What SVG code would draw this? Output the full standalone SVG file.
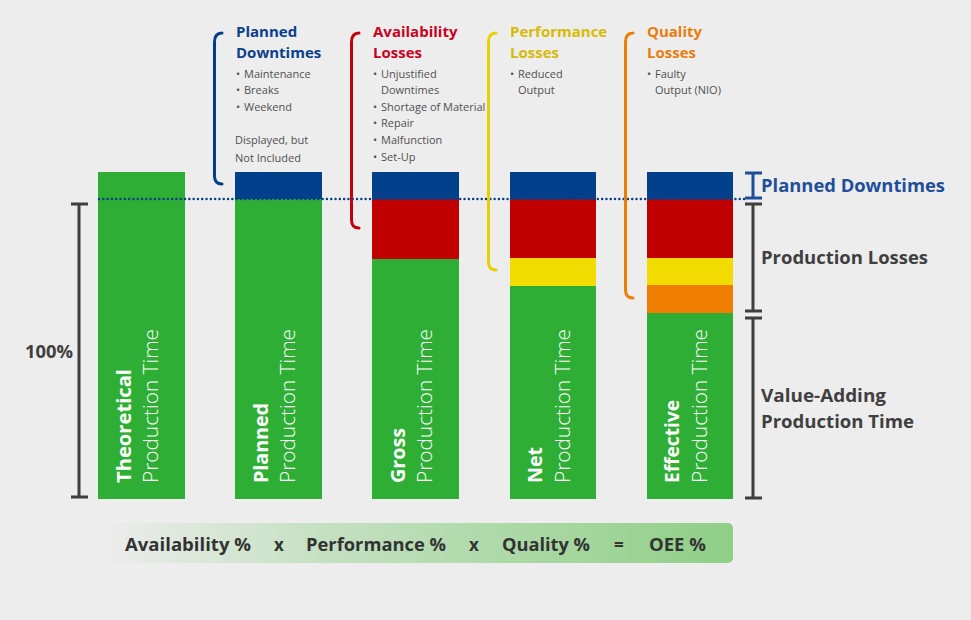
<svg xmlns="http://www.w3.org/2000/svg" width="971" height="620" viewBox="0 0 971 620">
<defs>
<linearGradient id="fgrad" x1="0" y1="0" x2="1" y2="0">
<stop offset="0" stop-color="#93d18b" stop-opacity="0"/>
<stop offset="0.35" stop-color="#93d18b" stop-opacity="0.45"/>
<stop offset="1" stop-color="#8fcf86" stop-opacity="1"/>
</linearGradient>
<style>
text{font-family:"Open Sans","Noto Sans","Liberation Sans",sans-serif;}
.g{fill:#2eae34}.b{fill:#003f8a}.r{fill:#c00000}.y{fill:#f2dc00}.o{fill:#ef7d00}
.vb{fill:#fff;font-weight:700;font-size:20px}
.vl{fill:#fff;font-weight:300;font-size:21px}
.h{font-weight:700;font-size:15px}
.t{fill:#505050;font-size:11px}
.scale{stroke:#3f3f3f;stroke-width:3;fill:none}
.lbl{font-weight:700;font-size:17.5px;fill:#3f3f3f}
.f{font-weight:700;font-size:17px;fill:#333}
.br{fill:none;stroke-width:3;stroke-linecap:round}
</style>
</defs>
<rect width="971" height="620" fill="#ededed"/>

<g id="bar-theoretical">
<rect class="g" x="98" y="172" width="87" height="327"/>
<text class="vb" transform="translate(131,483) rotate(-90)" textLength="114" lengthAdjust="spacingAndGlyphs">Theoretical</text>
<text class="vl" transform="translate(158,483) rotate(-90)" textLength="154" lengthAdjust="spacingAndGlyphs">Production Time</text>
</g>
<g id="bar-planned">
<rect class="b" x="235" y="172" width="87" height="27"/>
<rect class="g" x="235" y="199" width="87" height="300"/>
<text class="vb" transform="translate(268,483) rotate(-90)" textLength="80" lengthAdjust="spacingAndGlyphs">Planned</text>
<text class="vl" transform="translate(295,483) rotate(-90)" textLength="154" lengthAdjust="spacingAndGlyphs">Production Time</text>
</g>
<g id="bar-gross">
<rect class="b" x="372" y="172" width="87" height="27"/>
<rect class="r" x="372" y="199" width="87" height="60"/>
<rect class="g" x="372" y="259" width="87" height="240"/>
<text class="vb" transform="translate(405,483) rotate(-90)" textLength="55" lengthAdjust="spacingAndGlyphs">Gross</text>
<text class="vl" transform="translate(432,483) rotate(-90)" textLength="154" lengthAdjust="spacingAndGlyphs">Production Time</text>
</g>
<g id="bar-net">
<rect class="b" x="510" y="172" width="86" height="27"/>
<rect class="r" x="510" y="199" width="86" height="59"/>
<rect class="y" x="510" y="258" width="86" height="28"/>
<rect class="g" x="510" y="286" width="86" height="213"/>
<text class="vb" transform="translate(542,483) rotate(-90)" textLength="36" lengthAdjust="spacingAndGlyphs">Net</text>
<text class="vl" transform="translate(570,483) rotate(-90)" textLength="154" lengthAdjust="spacingAndGlyphs">Production Time</text>
</g>
<g id="bar-effective">
<rect class="b" x="647" y="172" width="86" height="27"/>
<rect class="r" x="647" y="199" width="86" height="59"/>
<rect class="y" x="647" y="258" width="86" height="27"/>
<rect class="o" x="647" y="285" width="86" height="28"/>
<rect class="g" x="647" y="313" width="86" height="186"/>
<text class="vb" transform="translate(679,483) rotate(-90)" textLength="83" lengthAdjust="spacingAndGlyphs">Effective</text>
<text class="vl" transform="translate(707,483) rotate(-90)" textLength="154" lengthAdjust="spacingAndGlyphs">Production Time</text>
</g>

<g id="connectors">
<line x1="99" y1="199" x2="745" y2="199" stroke="#003f8a" stroke-width="2.4" stroke-linecap="round" stroke-dasharray="0.1,4.2"/>
<path class="br" stroke="#003f8a" d="M222,33 Q214.5,33 214.5,42 L214.5,176 Q214.5,184 222,184"/>
<path class="br" stroke="#c00010" d="M359,33 Q351.5,33 351.5,42 L351.5,220 Q351.5,228 359,228"/>
<path class="br" stroke="#e8cf00" d="M496,33 Q488.5,33 488.5,42 L488.5,262 Q488.5,270 496,270"/>
<path class="br" stroke="#ef7d00" d="M633,33 Q625.5,33 625.5,42 L625.5,290 Q625.5,298 633,298"/>
</g>

<g id="heading-planned">
<text class="h" fill="#0a3f8c" x="236" y="37">Planned</text>
<text class="h" fill="#0a3f8c" x="236" y="58">Downtimes</text>
<text class="t" x="236" y="78">• <tspan x="244">Maintenance</tspan></text>
<text class="t" x="236" y="94">• <tspan x="244">Breaks</tspan></text>
<text class="t" x="236" y="111">• <tspan x="244">Weekend</tspan></text>
<text class="t" x="235" y="144">Displayed, but</text>
<text class="t" x="235" y="162">Not Included</text>
</g>
<g id="heading-availability">
<text class="h" fill="#c8001e" x="373" y="37">Availability</text>
<text class="h" fill="#c8001e" x="373" y="58">Losses</text>
<text class="t" x="373" y="78">• <tspan x="381">Unjustified</tspan></text>
<text class="t" x="381" y="94">Downtimes</text>
<text class="t" x="373" y="111">• <tspan x="381">Shortage of Material</tspan></text>
<text class="t" x="373" y="127">• <tspan x="381">Repair</tspan></text>
<text class="t" x="373" y="144">• <tspan x="381">Malfunction</tspan></text>
<text class="t" x="373" y="161">• <tspan x="381">Set-Up</tspan></text>
</g>
<g id="heading-performance">
<text class="h" fill="#d6bb00" x="510" y="37">Performance</text>
<text class="h" fill="#d6bb00" x="510" y="58">Losses</text>
<text class="t" x="510" y="78">• <tspan x="518">Reduced</tspan></text>
<text class="t" x="518" y="94">Output</text>
</g>
<g id="heading-quality">
<text class="h" fill="#ea7c0a" x="647" y="37">Quality</text>
<text class="h" fill="#ea7c0a" x="647" y="58">Losses</text>
<text class="t" x="647" y="78">• <tspan x="655">Faulty</tspan></text>
<text class="t" x="655" y="94">Output (NIO)</text>
</g>

<g id="scale-100">
<path class="scale" d="M79,204 V497 M71,204 H88 M71,497 H88"/>
<text class="lbl" x="25" y="358" textLength="48" lengthAdjust="spacingAndGlyphs">100%</text>
</g>
<g id="scale-planned-downtimes">
<path class="scale" style="stroke:#1f4e9a" d="M753,173 V198 M745,173 H762 M745,198 H762"/>
<text class="lbl" style="fill:#1f4e9a" x="761" y="192" textLength="184" lengthAdjust="spacingAndGlyphs">Planned Downtimes</text>
</g>
<g id="scale-production-losses">
<path class="scale" d="M753,204 V311 M745,204 H762 M745,311 H762"/>
<text class="lbl" x="761" y="264" textLength="167" lengthAdjust="spacingAndGlyphs">Production Losses</text>
</g>
<g id="scale-value-adding">
<path class="scale" d="M753,318 V498 M745,318 H762 M745,498 H762"/>
<text class="lbl" x="761" y="402" textLength="125" lengthAdjust="spacingAndGlyphs">Value-Adding</text>
<text class="lbl" x="761" y="428" textLength="153" lengthAdjust="spacingAndGlyphs">Production Time</text>
</g>

<g id="formula">
<rect x="100" y="523" width="633" height="40" rx="5" fill="url(#fgrad)"/>
<text class="f" x="125" y="551" textLength="126" lengthAdjust="spacingAndGlyphs">Availability %</text>
<text class="f" x="274" y="551">x</text>
<text class="f" x="306" y="551" textLength="140" lengthAdjust="spacingAndGlyphs">Performance %</text>
<text class="f" x="469" y="551">x</text>
<text class="f" x="502" y="551" textLength="88" lengthAdjust="spacingAndGlyphs">Quality %</text>
<text class="f" x="614" y="551">=</text>
<text class="f" x="649" y="551" textLength="57" lengthAdjust="spacingAndGlyphs">OEE %</text>
</g>
</svg>
